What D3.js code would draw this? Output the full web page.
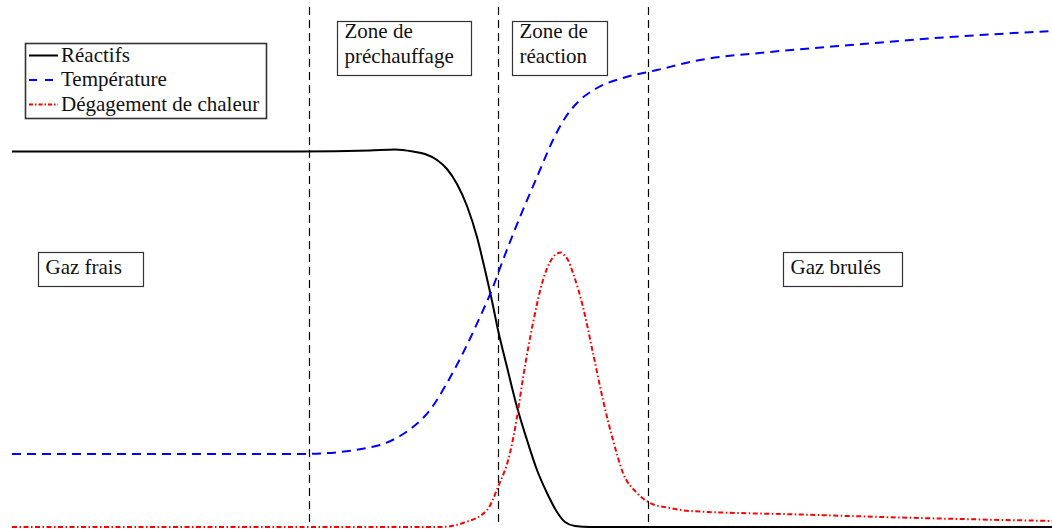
<!DOCTYPE html>
<html>
<head>
<meta charset="utf-8">
<script src="https://cdn.jsdelivr.net/npm/d3@7"></script>
<style>
  body { margin: 0; background: #fff; }
  svg { display: block; }
  text { font-family: "Liberation Serif", "DejaVu Serif", serif; fill: #111; }
</style>
</head>
<body>
<svg width="1052" height="529"></svg>
<script>
// position le long de la flamme (unités arbitraires) et niveau normalisé
const reactifsX = [0, 1.88, 2.88, 3.58, 3.83, 4.01, 4.13, 4.25, 4.35, 4.45, 4.55, 4.65, 4.73, 4.80, 4.86, 4.95, 5.05, 5.15, 5.25, 5.35, 5.45, 5.53, 5.63, 5.78, 10.40];
const reactifsY = [0.751, 0.751, 0.751, 0.753, 0.755, 0.751, 0.746, 0.734, 0.716, 0.686, 0.642, 0.580, 0.514, 0.452, 0.394, 0.320, 0.240, 0.174, 0.114, 0.068, 0.030, 0.010, 0.002, 0.0, 0.0];

const temperatureX = [0, 2.88, 3.28, 3.55, 3.68, 3.88, 4.01, 4.18, 4.35, 4.51, 4.68, 4.81, 4.91, 5.08, 5.25, 5.41, 5.53, 5.65, 5.85, 6.11, 6.45, 6.88, 7.58, 8.38, 9.38, 10.40];
const temperatureY = [0.146, 0.146, 0.150, 0.158, 0.164, 0.182, 0.200, 0.234, 0.288, 0.348, 0.420, 0.480, 0.534, 0.620, 0.700, 0.774, 0.818, 0.848, 0.878, 0.898, 0.914, 0.934, 0.950, 0.964, 0.980, 0.992];

const chaleurX = [0, 3.88, 4.28, 4.51, 4.75, 4.86, 4.98, 5.05, 5.11, 5.21, 5.31, 5.38, 5.43, 5.49, 5.53, 5.56, 5.61, 5.71, 5.81, 5.91, 6.01, 6.11, 6.25, 6.38, 6.58, 6.78, 7.88, 8.88, 10.40];
const chaleurY = [0, 0, 0, 0.008, 0.034, 0.080, 0.148, 0.220, 0.298, 0.408, 0.494, 0.530, 0.544, 0.549, 0.542, 0.534, 0.508, 0.440, 0.348, 0.254, 0.174, 0.108, 0.068, 0.048, 0.038, 0.032, 0.025, 0.019, 0.012];

// limites des zones
const zoneLimites = [2.97, 4.86, 6.36];

const legendeNoms = ["Réactifs", "Température", "Dégagement de chaleur"];

// boîtes de texte : position (unités du graphe), lignes
const boites = [
    { lignes: ["Zone de", "préchauffage"], x: 3.25, y: 1.012, w: 134 },
    { lignes: ["Zone de", "réaction"], x: 5.00, y: 1.012, w: 95 },
    { lignes: ["Gaz frais"], x: 0.26, y: 0.550, w: 105 },
    { lignes: ["Gaz brulés"], x: 7.71, y: 0.550, w: 119 }
];

const svg = d3.select("svg");

const x = d3.scaleLinear().domain([0, 10.4]).range([12, 1052]);
const y = d3.scaleLinear().domain([0, 1]).range([527, 27]);

const series = [
    { xs: reactifsX, ys: reactifsY, color: "#000", dash: null, width: 2 },
    { xs: temperatureX, ys: temperatureY, color: "#0000ff", dash: "9,6", width: 2 },
    { xs: chaleurX, ys: chaleurY, color: "#ff0000", dash: "5,2.5,1.5,2.5", width: 2 }
];

// lignes verticales pointillées
svg.append("g")
    .selectAll("line")
    .data(zoneLimites)
    .join("line")
    .attr("x1", d => Math.round(x(d)) + 0.5)
    .attr("x2", d => Math.round(x(d)) + 0.5)
    .attr("y1", y(1.04))
    .attr("y2", y(0))
    .attr("stroke", "#000")
    .attr("stroke-width", 1.2)
    .attr("stroke-dasharray", "8,5");

const line = d3.line()
    .x(d => x(d[0]))
    .y(d => y(d[1]))
    .curve(d3.curveMonotoneX);

svg.append("g")
    .selectAll("path")
    .data(series)
    .join("path")
    .attr("d", s => line(s.xs.map((v, i) => [v, s.ys[i]])))
    .attr("fill", "none")
    .attr("stroke", s => s.color)
    .attr("stroke-width", s => s.width)
    .attr("stroke-dasharray", s => s.dash);

// boîtes
const fontSize = 21;
boites.forEach(b => {
    const g = svg.append("g");
    const bx = Math.round(x(b.x)) + 0.5;
    const by = Math.round(y(b.y)) + 0.5;
    const h = b.lignes.length === 1 ? 34 : 54;
    g.append("rect")
        .attr("x", bx).attr("y", by)
        .attr("width", b.w).attr("height", h)
        .attr("fill", "#fff")
        .attr("stroke", "#333")
        .attr("stroke-width", 1.2);
    b.lignes.forEach((t, i) => {
        g.append("text")
            .attr("x", bx + 7)
            .attr("y", by + (b.lignes.length === 1 ? 21 : 16) + i * 25)
            .style("font-size", fontSize + "px")
            .text(t);
    });
});

// légende
const leg = svg.append("g");
leg.append("rect")
    .attr("x", 25.5).attr("y", 43.5)
    .attr("width", 241).attr("height", 75)
    .attr("fill", "#fff")
    .attr("stroke", "#333")
    .attr("stroke-width", 1.6);

legendeNoms.forEach((nom, i) => {
    const base = 61.5 + i * 24.5;
    leg.append("line")
        .attr("x1", 29).attr("x2", 58)
        .attr("y1", base - 6).attr("y2", base - 6)
        .attr("stroke", series[i].color)
        .attr("stroke-width", 2)
        .attr("stroke-dasharray", i === 1 ? "8,8" : (i === 2 ? "4,2,1.5,2" : null));
    leg.append("text")
        .attr("x", 61)
        .attr("y", base)
        .style("font-size", fontSize + "px")
        .text(nom);
});
</script>
</body>
</html>
